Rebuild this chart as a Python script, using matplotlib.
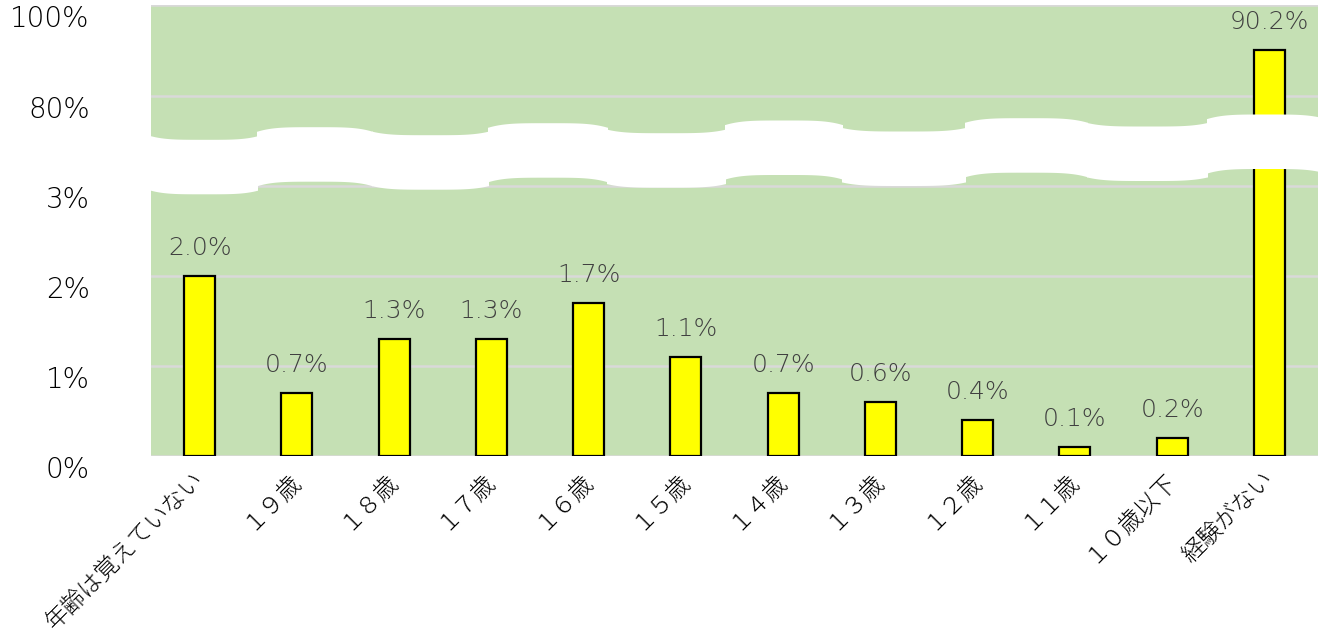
import numpy as np
import matplotlib
matplotlib.use("Agg")
import matplotlib.pyplot as plt
import matplotlib.transforms as mtransforms

plt.rcParams['font.family'] = ['Noto Sans CJK JP', 'DejaVu Sans']
num_font = ['DejaVu Sans', 'Noto Sans CJK JP']

# Data
categories = ["年齢は覚えていない", "１９歳", "１８歳", "１７歳", "１６歳", "１５歳",
              "１４歳", "１３歳", "１２歳", "１１歳", "１０歳以下", "経験がない"]
values = [2.0, 0.7, 1.3, 1.3, 1.7, 1.1, 0.7, 0.6, 0.4, 0.1, 0.2, 90.2]
low_ticks = [0, 1, 2, 3]
high_ticks = [80, 100]

# Wavy break band (figure pixels): segment edges and top-edge centre heights
band_edges = [151, 257, 372, 488, 607, 725, 842, 965, 1087, 1207, 1325]
band_top = [139.3, 126.7, 134.7, 122.7, 132.7, 120.0, 131.0, 117.7, 126.0, 114.0]
band_height = 54.5

W, H = 1325, 638
green = "#c5e0b4"
grid_col = "#d9d9d9"

fig = plt.figure(figsize=(W / 100, H / 100), dpi=100)
left = 151 / W
width = (1318 - 151) / W
split = 150  # pixel row where the two axes meet (hidden by band)
ax_lo = fig.add_axes([left, (H - 456) / H, width, (456 - split) / H])
ax_hi = fig.add_axes([left, (H - split) / H, width, (split - 5) / H])

ax_lo.set_ylim(0, (456 - split) / 90)
ax_hi.set_ylim(100 - (split - 5) / 4.55, 100)

x = np.arange(len(categories))
offset = mtransforms.ScaledTranslation(0, -11 / 100, fig.dpi_scale_trans)

for ax, ticks in [(ax_lo, low_ticks), (ax_hi, high_ticks)]:
    ax.set_facecolor(green)
    ax.bar(x, values, width=0.32, color="#ffff00", edgecolor="black", linewidth=1.6, zorder=3)
    ax.set_xlim(-0.5, len(categories) - 0.5)
    ax.set_yticks(ticks)
    ax.set_yticklabels([f"{t}%" for t in ticks], fontsize=20, fontweight="light",
                       family=num_font, color="black")
    ax.yaxis.grid(True, color=grid_col, linewidth=1.8)
    ax.set_axisbelow(True)
    ax.tick_params(axis="y", length=0, pad=44)
    for s in ax.spines.values():
        s.set_visible(False)
    for lab in ax.get_yticklabels():
        lab.set_transform(lab.get_transform() + offset)

ax_hi.set_xticks([])
ax_lo.set_xticks(x)
ax_lo.set_xticklabels(categories, rotation=45, ha="right", va="center",
                      rotation_mode="anchor", fontsize=17, fontweight="light")
ax_lo.tick_params(axis="x", length=0, pad=14)

# value labels
for xi, v in zip(x, values):
    ax = ax_lo if v < 3.3 else ax_hi
    ax.annotate(f"{v:.1f}%", (xi, v), xytext=(0, 20), textcoords="offset points",
                ha="center", va="center", fontsize=18, fontweight="light",
                family=num_font, color="#404040")

# white wavy band over the break
ov = fig.add_axes([0, 0, 1, 1], zorder=10)
ov.set_xlim(0, W)
ov.set_ylim(H, 0)
ov.axis("off")
ov.patch.set_alpha(0)
for i in range(len(band_top)):
    x0, x1 = band_edges[i], band_edges[i + 1]
    xs = np.linspace(x0 - 0.5, x1 + 0.5, 200)
    t = (xs - (x0 + x1) / 2) / ((x1 - x0) / 2)
    t = np.clip(t, -1, 1)
    mid = band_top[i]
    end = mid - 3.5 if i % 2 == 0 else mid + 4.5
    top = end + (mid - end) * (1 - t ** 4)
    ov.fill_between(xs, top, top + band_height, color="white", linewidth=0)

fig.savefig("out.png", dpi=100)
